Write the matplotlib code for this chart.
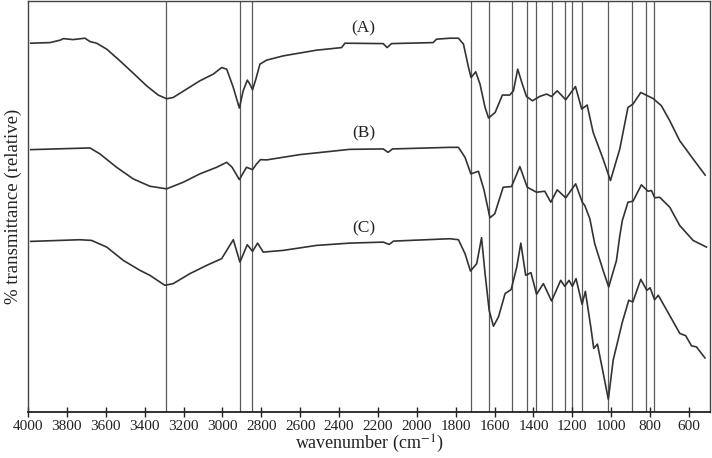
import matplotlib
matplotlib.use("Agg")
import matplotlib.pyplot as plt

plt.rcParams['font.family'] = ['Liberation Serif', 'DejaVu Serif']
plt.rcParams['mathtext.fontset'] = 'stix'

# Spectrum A (wavenumber, relative transmittance)
wn_a = [3986, 3887, 3835, 3818, 3769, 3707, 3681, 3647, 3595, 3527, 3459, 3390, 3330, 3287,
        3253, 3184, 3116, 3047, 3004, 2978, 2944, 2913, 2893, 2872, 2859, 2845, 2828, 2807,
        2773, 2687, 2516, 2387, 2370, 2173, 2153, 2130, 1916, 1899, 1830, 1786, 1760, 1734,
        1721, 1697, 1675, 1649, 1631, 1597, 1560, 1522, 1503, 1481, 1460, 1436, 1405, 1368,
        1333, 1307, 1278, 1234, 1184, 1152, 1124, 1093, 1042, 1004, 956, 914, 888, 848, 785,
        742, 699, 648, 579, 517]
t_a = [369.7, 370.3, 372.7, 374.3, 373.3, 374.7, 371.3, 369.7, 363.7, 352, 339.7, 327, 317.7, 314,
       315.3, 323.7, 332, 338.7, 345.3, 343.7, 325.3, 304.7, 322, 332.7, 328.7, 323, 333.7, 348.7,
       352.7, 357, 362.7, 365.3, 369.7, 369.3, 365.3, 369.3, 370.3, 373.7, 374.7, 374.7, 368.7, 345.3,
       335.3, 341, 328.7, 305.3, 294.7, 300.3, 317.7, 317.7, 322, 343.7, 330.3, 316.3, 312, 316.3,
       318.7, 316.3, 322, 313, 326.3, 303.7, 307.7, 280.3, 253.7, 232, 263.7, 305.3, 308.7, 320.3, 314.3,
       307, 292, 272, 253.7, 237.5]

# Spectrum B
wn_b = [3986, 3681, 3630, 3544, 3459, 3373, 3287, 3202, 3116, 3030, 2978, 2950, 2913, 2876,
        2845, 2824, 2804, 2773, 2602, 2345, 2173, 2148, 2125, 1830, 1786, 1752, 1722, 1683,
        1655, 1624, 1599, 1556, 1513, 1470, 1432, 1384, 1342, 1311, 1278, 1234, 1183, 1149,
        1136, 1110, 1085, 1042, 1013, 973, 957, 943, 914, 888, 845, 811, 793, 776, 751, 699,
        648, 579, 510]
t_b = [263, 264.7, 258.7, 245.3, 233.7, 226.3, 223.7, 230.3, 238.7, 245.3, 250.3, 245.3, 233, 245.3,
       243, 248.7, 253, 252.7, 258, 263.3, 263.7, 260.3, 263.7, 265.3, 265.3, 255.3, 238.7, 241.3,
       223, 194.7, 198.7, 225.3, 226, 246, 225.3, 220.3, 221.3, 210.3, 222.7, 214.7, 228.7, 210.3,
       207, 193.7, 168.7, 142, 125.3, 152, 175.3, 192, 210.3, 211.3, 227.7, 221.3, 222, 214.7, 215.3, 205.3,
       187, 172, 165.3]

# Spectrum C
wn_c = [3986, 3733, 3673, 3595, 3510, 3424, 3373, 3296, 3253, 3167, 3081, 3004, 2944, 2910,
        2872, 2845, 2819, 2790, 2687, 2516, 2345, 2173, 2142, 2120, 1830, 1786, 1752, 1724,
        1692, 1667, 1649, 1628, 1606, 1580, 1546, 1515, 1486, 1465, 1440, 1413, 1384, 1349,
        1307, 1260, 1239, 1217, 1200, 1181, 1150, 1133, 1105, 1090, 1071, 1041, 1015, 990,
        943, 910, 889, 848, 817, 800, 777, 758, 702, 647, 617, 587, 562, 518]
t_c = [171, 172.7, 172, 165.3, 152, 142, 137, 127, 128.7, 138.7, 147, 153.7, 172.7, 150.3,
       167.7, 161, 169.3, 160.3, 162, 167, 169.3, 170.3, 168, 171.3, 173.7, 172.7, 158.7, 141.3,
       148.7, 174.7, 138.7, 102, 86, 95.3, 118.7, 122.7, 145.3, 169.3, 137, 139.7, 118, 128.7,
       111.3, 132, 126, 132, 126, 133.7, 108, 121, 85, 63.7, 68, 38.7, 12.7, 52,
       90, 112, 110.3, 133, 122, 124.5, 112.5, 117, 97.7, 78.7, 76.5, 66.3, 65.3, 54.2]

# Marked band positions (cm^-1)
bands = [3290, 2912, 2848, 1722, 1628, 1510, 1434, 1387, 1306, 1238, 1201, 1148, 1018, 892, 820, 781]

labels = ["(A)", "(B)", "(C)"]
label_pos = [(2274, 385), (2274, 279), (2274, 184)]

xticks = list(range(4000, 599, -200))

fig = plt.figure(figsize=(7.12, 4.58), dpi=100)
ax = fig.add_axes([28/712, 46/458, 682/712, 411/458])

for b in bands:
    ax.axvline(b, color='#5a5a5a', lw=0.9, zorder=1)

for wn, t in [(wn_a, t_a), (wn_b, t_b), (wn_c, t_c)]:
    ax.plot(wn, t, color='#333333', lw=1.2, zorder=2, solid_joinstyle='round')

for lab, (x, y) in zip(labels, label_pos):
    ax.text(x, y, lab, ha='center', va='center', fontsize=12.5, color='#222222')

ax.set_xlim(4000, 492)
ax.set_ylim(0, 412)
ax.set_xticks(xticks)
ax.set_xticklabels([str(v) for v in xticks])
ax.set_yticks([])
ax.tick_params(axis='x', direction='inout', length=7, width=1.0, labelsize=11,
               colors='#222222', pad=2)
for s in ax.spines.values():
    s.set_color('#444444')
    s.set_linewidth(1.0)
ax.spines['bottom'].set_linewidth(1.3)
ax.spines['bottom'].set_color('#222222')

ax.set_xlabel("wavenumber (cm$^{-1}$)", fontsize=13, color='#222222', labelpad=0)
ax.set_ylabel("% transmittance (relative)", fontsize=13.5, color='#222222', labelpad=4)

fig.savefig("out.png", dpi=100)
